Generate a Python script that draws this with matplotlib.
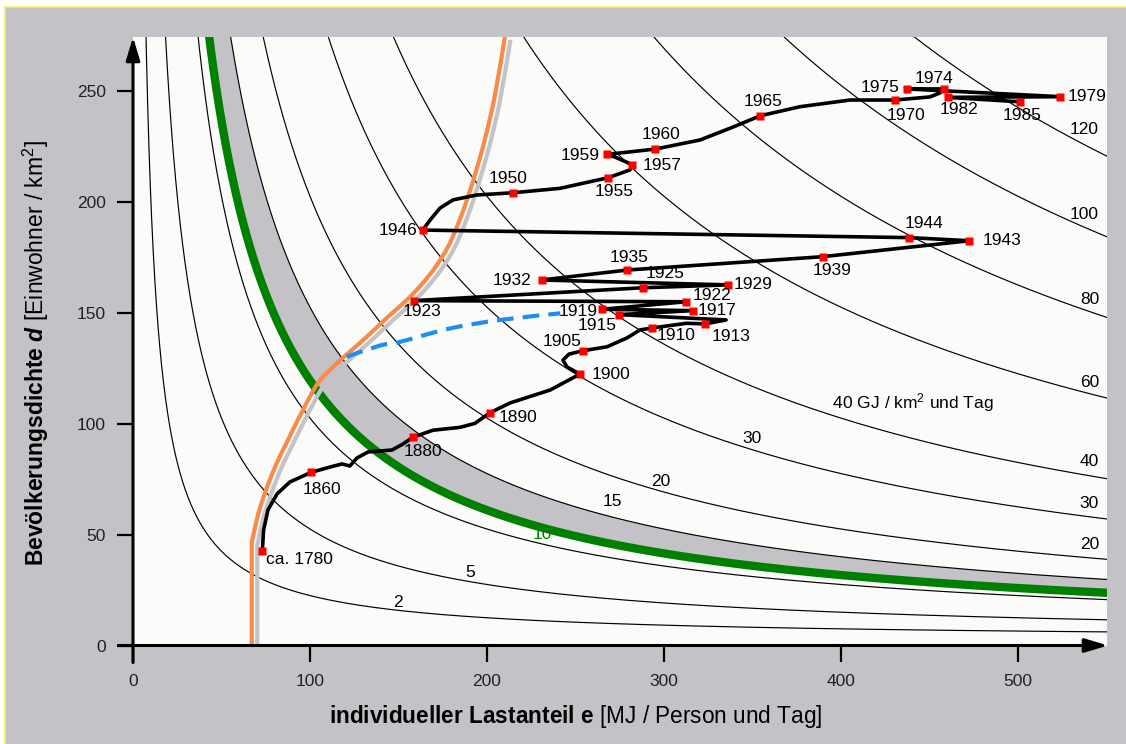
import numpy as np
import matplotlib
matplotlib.use('Agg')
import matplotlib.pyplot as plt
import matplotlib.patheffects as pe
from matplotlib.patches import Rectangle, PathPatch
from matplotlib.lines import Line2D
from matplotlib.path import Path

plt.rcParams['font.family'] = ['Liberation Sans', 'DejaVu Sans']
plt.rcParams['mathtext.fontset'] = 'custom'
plt.rcParams['mathtext.rm'] = 'Liberation Sans'
plt.rcParams['mathtext.bf'] = 'Liberation Sans:bold'
plt.rcParams['mathtext.it'] = 'Liberation Sans:italic'
plt.rcParams['mathtext.bfit'] = 'Liberation Sans:italic:bold'

# iso lines of load per area, GJ / km2 and day
levels = [2, 5, 10, 15, 20, 30, 40, 60, 80, 100, 120]
level_shift = 2.5       # printed curves sit slightly above d = C / e
green_level = 11.7      # thick green limit curve
band_top = 15           # grey band from green curve up to this level

# labelled points of the trajectory (e in MJ/person/day, d in inh./km2)
years = ['ca. 1780', '1860', '1880', '1890', '1900', '1905', '1910', '1913',
         '1915', '1917', '1919', '1922', '1923', '1925', '1929', '1932',
         '1935', '1939', '1943', '1944', '1946', '1950', '1955', '1957',
         '1959', '1960', '1965', '1970', '1974', '1975', '1979', '1982', '1985']
year_e = [73.1, 100.6, 158.1, 201.8, 252.6, 254.2, 293.5, 323.3,
          274.7, 316.3, 265.0, 312.5, 158.8, 288.1, 336.3, 231.0,
          279.4, 389.8, 472.6, 438.7, 163.7, 214.6, 268.6, 282.2,
          267.9, 295.2, 354.5, 430.8, 458.3, 437.6, 524.1, 460.4, 501.3]
year_d = [42.7, 78.0, 93.8, 104.9, 122.3, 132.8, 143.1, 144.9,
          149.1, 150.9, 151.5, 154.9, 155.4, 161.2, 162.5, 164.7,
          169.2, 175.2, 182.4, 183.8, 187.2, 204.0, 210.8, 216.7,
          221.3, 223.7, 238.7, 245.8, 250.8, 250.8, 247.3, 247.0, 245.0]

# full path of the black line
path_e = [73.1, 73.8, 76.3, 81.4, 88.7, 100.6, 111.3, 118.1, 122.6, 126.6,
          132.8, 146.4, 152.6, 158.1, 169.5, 184.8, 193.3, 201.8, 213.1, 235.7,
          252.6, 245.3, 243.0, 246.4, 254.2, 267.9, 279.2, 286.5, 293.5, 312.9,
          323.3, 335.2, 274.7, 316.3, 265.0, 312.5, 158.8, 288.1, 336.3, 231.0,
          279.4, 389.8, 472.6, 438.7, 163.7, 167.9, 173.5, 180.9, 194.2, 214.6,
          241.3, 268.6, 280.9, 282.2, 272.4, 267.9, 295.2, 320.5, 339.1, 354.5,
          377.1, 405.3, 430.8, 450.4, 456.1, 458.3, 437.6, 524.1, 460.4, 501.3]
path_d = [42.7, 52.0, 61.1, 68.3, 73.7, 78.0, 80.4, 81.8, 80.9, 84.5,
          87.2, 88.1, 90.8, 93.8, 97.0, 98.3, 100.1, 104.9, 109.3, 115.1,
          122.3, 125.5, 128.6, 131.3, 132.8, 134.6, 138.6, 142.2, 143.1, 145.2,
          144.9, 146.7, 149.1, 150.9, 151.5, 154.9, 155.4, 161.2, 162.5, 164.7,
          169.2, 175.2, 182.4, 183.8, 187.2, 191.7, 197.1, 200.8, 203.0, 204.0,
          206.0, 210.8, 214.3, 216.7, 220.1, 221.3, 223.7, 227.8, 233.6, 238.7,
          242.8, 245.8, 245.8, 247.2, 249.0, 250.8, 250.8, 247.3, 247.0, 245.0]

# orange boundary curve and blue dashed branch
orange_e = [67.1, 67.1, 70.6, 75.2, 80.8, 87.6, 95.5, 104.6, 114.2, 123.8, 133.9,
            144.1, 154.9, 163.9, 171.8, 178.6, 184.2, 189.3, 194.4, 199.5, 204.6, 210.2]
orange_d = [0, 46.2, 58.8, 70.1, 81.4, 92.6, 105.3, 118.3, 126.4, 133.2, 140.4,
            148.1, 155.8, 163.4, 171.5, 180.5, 190.9, 202.1, 215.2, 230.0, 248.1, 274.2]
blue_e = [120.8, 139.7, 150.8, 179.3, 207.6, 241.5]
blue_d = [130.1, 135.2, 136.8, 142.9, 146.7, 149.7]

# label offsets in pixels (dx right, dy down) from each square
year_offsets = {
    'ca. 1780': (37, 9), '1860': (11, 17), '1880': (10, 14), '1890': (28, 5),
    '1900': (31, 0), '1905': (-21, -9), '1910': (24, 8), '1913': (26, 13),
    '1915': (-22, 11), '1917': (24, 0), '1919': (-24, 2), '1922': (26, -6),
    '1923': (8, 11), '1925': (22, -14), '1929': (25, 0), '1932': (-30, 0),
    '1935': (2, -13), '1939': (9, 14), '1943': (33, 0), '1944': (15, -14),
    '1946': (-25, 0), '1950': (-5, -14), '1955': (6, 14), '1957': (30, 1),
    '1959': (-27, 1), '1960': (6, -15), '1965': (3, -14), '1970': (11, 15),
    '1974': (-10, -10), '1975': (-27, -1), '1979': (27, 0), '1982': (11, 12),
    '1985': (2, 14)}
inner_labels = {2: (150, 19.2), 5: (190.6, 33.1), 10: (231.3, 49.8),
                15: (270.9, 64.7), 20: (298.1, 73.7), 30: (350.1, 93.5)}
edge_labels = {120: 232.3, 100: 194.0, 80: 155.7, 60: 118.7, 40: 83.1, 30: 64.2, 20: 45.3}

GREY = '#c4c2c6'
E_MAX, D_MAX = 550.5, 274.2
FS = 12.5


def smooth(xs, ys, start=0):
    '''Bezier path through the given points (straight before index start).'''
    pts = np.column_stack([xs, ys]).astype(float)
    verts = [pts[0]]
    codes = [Path.MOVETO]
    for i in range(1, len(pts)):
        if i <= start:
            verts.append(pts[i])
            codes.append(Path.LINETO)
            continue
        p0 = pts[max(i - 2, start)]
        p1, p2 = pts[i - 1], pts[i]
        p3 = pts[min(i + 1, len(pts) - 1)]
        verts += [p1 + (p2 - p0) / 6.0, p2 - (p3 - p1) / 6.0, p2]
        codes += [Path.CURVE4] * 3
    return Path(verts, codes)


fig = plt.figure(figsize=(11.26, 7.44), dpi=100, facecolor='white')
fig.add_artist(Rectangle((5 / 1126, 0), 1, 1 - 7 / 744, transform=fig.transFigure,
                         facecolor=GREY, edgecolor='none', zorder=-2))
fig.add_artist(Line2D([5 / 1126, 1], [1 - 7 / 744] * 2, transform=fig.transFigure,
                      color='#f3ee6a', lw=1.2, zorder=-1))
fig.add_artist(Line2D([5 / 1126] * 2, [0, 1 - 7 / 744], transform=fig.transFigure,
                      color='#f3ee6a', lw=1.2, zorder=-1))

ax = fig.add_axes([133 / 1126, 1 - 645.5 / 744, 974 / 1126, 608.5 / 744])
ax.set_facecolor('#fbfcfa')
ax.set_xlim(0, E_MAX)
ax.set_ylim(0, D_MAX)
for s in ax.spines.values():
    s.set_visible(False)

e_grid = np.linspace(1, 560, 3000)


def iso(level):
    return level * 1000.0 / e_grid + level_shift


# grey band and iso lines
ax.fill_between(e_grid, iso(green_level), iso(band_top), color=GREY, lw=0, zorder=1)
for lev in levels:
    ax.plot(e_grid, iso(lev), color='black', lw=0.85, zorder=2)
ax.plot(e_grid, iso(green_level), color='#008000', lw=6, zorder=3)

for lev, (x, y) in inner_labels.items():
    ax.text(x, y, str(lev), fontsize=FS, ha='center', va='center',
            color='#008000' if lev == 10 else 'black', zorder=7)
for lev, y in edge_labels.items():
    ax.text(546, y, str(lev), fontsize=FS, ha='right', va='center', zorder=7)
ax.text(393, 109.3, ' 40 GJ / km$^2$ und Tag', fontsize=FS, ha='left', va='center', zorder=7)

# orange line with grey shadow, blue dashed branch
ax.add_patch(PathPatch(smooth(orange_e, orange_d, start=1), fill=False,
                       edgecolor='#f98a48', lw=3, zorder=4, capstyle='butt',
                       path_effects=[pe.SimpleLineShadow(offset=(4, -2), shadow_color=GREY, alpha=1),
                                     pe.Normal()]))
ax.add_patch(PathPatch(smooth(blue_e, blue_d), fill=False, edgecolor='#1f8ef1',
                       lw=3, ls=(0, (4, 2.2)), zorder=4))

# trajectory
ax.plot(path_e, path_d, color='black', lw=2.6, zorder=5, solid_joinstyle='round')
ax.plot(year_e, year_d, 's', color='#ff0000', ms=6, mec='none', zorder=6)
for lab, x, y in zip(years, year_e, year_d):
    dx, dy = year_offsets[lab]
    ax.annotate(lab, (x, y), xytext=(dx, -dy), textcoords='offset pixels',
                ha='center', va='center', fontsize=FS, zorder=7)

# axes with arrows
arrow = dict(arrowstyle='-|>,head_length=1.4,head_width=0.42', lw=2.2, color='black',
             shrinkA=0, shrinkB=0, mutation_scale=10)
ax.annotate('', xy=(1.001, 0), xycoords='axes fraction', xytext=(-0.015, 0),
            arrowprops=arrow, annotation_clip=False, zorder=10)
ax.annotate('', xy=(0, 1.0), xycoords='axes fraction', xytext=(0, -0.028),
            arrowprops=arrow, annotation_clip=False, zorder=10)

ax.set_xticks(range(0, 501, 100))
ax.set_yticks(range(0, 251, 50))
ax.tick_params(direction='out', length=11.5, width=1.6, labelsize=FS, labelcolor='#222222')
ax.tick_params(axis='x', pad=9)
ax.tick_params(axis='y', pad=8)

ax.set_xlabel(r'$\mathbf{individueller\ Lastanteil\ e}$ [MJ / Person und Tag]', fontsize=16.3)
ax.xaxis.set_label_coords(250 / E_MAX, -0.094)
ax.set_ylabel(r'$\mathbf{Bevölkerungsdichte}$ $\mathbfit{d}$ [Einwohner / km$^2$]', fontsize=16.5)
ax.yaxis.set_label_coords(-0.084, 0.48)

fig.savefig('out.png', dpi=100, facecolor=fig.get_facecolor())
